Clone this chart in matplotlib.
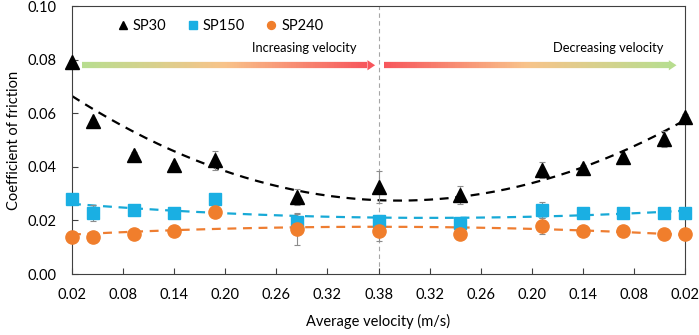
import numpy as np
import matplotlib
matplotlib.use("Agg")
import matplotlib.pyplot as plt
from matplotlib.collections import LineCollection
from matplotlib.colors import LinearSegmentedColormap
from matplotlib.patches import Polygon

plt.rcParams['font.family'] = ['Lato', 'DejaVu Sans']

# velocity for each run (m/s): up to 0.38, then back down
vel_up = [0.02, 0.045, 0.093, 0.14, 0.188, 0.284, 0.38]
vel_down = [0.284, 0.188, 0.14, 0.093, 0.045, 0.02]

sp30 = [0.079, 0.057, 0.0445, 0.0405, 0.0425, 0.0287, 0.0325,
        0.0295, 0.0388, 0.0395, 0.0435, 0.0505, 0.0587]
sp30_err = [0.001, 0.001, 0.001, 0.001, 0.0035, 0.003, 0.006,
            0.0035, 0.003, 0.001, 0.001, 0.003, 0.001]
sp150 = [0.028, 0.0228, 0.024, 0.0228, 0.028, 0.0195, 0.0199,
         0.019, 0.024, 0.0228, 0.0228, 0.0228, 0.0228]
sp150_err = [0.001, 0.003, 0.001, 0.001, 0.001, 0.003, 0.002,
             0.001, 0.003, 0.001, 0.001, 0.001, 0.001]
sp240 = [0.014, 0.014, 0.015, 0.016, 0.023, 0.0168, 0.016,
         0.0148, 0.018, 0.016, 0.016, 0.015, 0.015]
sp240_err = [0.001, 0.001, 0.001, 0.001, 0.001, 0.006, 0.0035,
             0.001, 0.003, 0.001, 0.001, 0.001, 0.001]

tick_labels = ['0.02', '0.08', '0.14', '0.20', '0.26', '0.32', '0.38',
               '0.32', '0.26', '0.20', '0.14', '0.08', '0.02']

# position on the "unfolded" velocity axis
pos = np.array([v - 0.02 for v in vel_up] + [0.36 + (0.38 - v) for v in vel_down])

fig = plt.figure(figsize=(6.99, 3.35), dpi=100)
ax = fig.add_axes([0.103, 0.182, 0.877, 0.8])

series = [
    (sp30, sp30_err, '^', 'black', '#000000', 'SP30', 10),
    (sp150, sp150_err, 's', '#1AAFE3', '#17A9D6', 'SP150', 9),
    (sp240, sp240_err, 'o', '#F07E2C', '#EE7D31', 'SP240', 9.5),
]

xs = np.linspace(0, 0.72, 200)
for y, err, m, c, tc, lab, ms in series:
    coef = np.polyfit(pos, y, 2)
    ax.plot(xs, np.polyval(coef, xs), ls=(0, (4, 3)), color=tc, lw=1.6, zorder=2)
    ax.errorbar(pos, y, yerr=err, fmt='none', ecolor='#8c8c8c', elinewidth=0.8,
                capsize=2, capthick=0.8, zorder=3, clip_on=False)
    ax.plot(pos, y, ls='none', marker=m, color=c, ms=ms, label=lab,
            zorder=4, clip_on=False)

ax.axvline(0.36, color='#a6a6a6', ls=(0, (4, 3)), lw=0.8, zorder=1)

# gradient arrows
cmap = LinearSegmentedColormap.from_list('g2r', ['#b8dd8f', '#f8c38a', '#f7565c'])


def grad_arrow(x0, x1, yv, forward):
    n = 120
    xx = np.linspace(x0, x1, n + 1)
    segs = [[(xx[i], yv), (xx[i + 1], yv)] for i in range(n)]
    t = np.linspace(0, 1, n)
    if not forward:
        t = 1 - t
    lc = LineCollection(segs, colors=cmap(t), linewidths=4.5, capstyle='butt', zorder=2)
    ax.add_collection(lc)
    hc = cmap(1.0) if forward else cmap(0.0)
    hl, hw = 0.009, 0.0019
    ax.add_patch(Polygon([(x1, yv + hw), (x1 + hl, yv), (x1, yv - hw)],
                         closed=True, color=hc, lw=0, zorder=2))


grad_arrow(0.012, 0.347, 0.0779, True)
grad_arrow(0.366, 0.701, 0.0779, False)

ax.text(0.334, 0.0822, 'Increasing velocity', ha='right', va='bottom', fontsize=9.3)
ax.text(0.695, 0.0822, 'Decreasing velocity', ha='right', va='bottom', fontsize=9.3)

ax.set_xlim(0, 0.72)
ax.set_ylim(0, 0.10)
ax.set_xticks(np.arange(13) * 0.06)
ax.set_xticklabels(tick_labels)
ax.set_yticks([0, 0.02, 0.04, 0.06, 0.08, 0.10])
ax.set_yticklabels(['0.00', '0.02', '0.04', '0.06', '0.08', '0.10'])
ax.tick_params(direction='in', length=4, width=0.8, colors='#404040', labelsize=10.5,
               labelcolor='black')
ax.tick_params(axis='x', pad=10)
ax.tick_params(axis='y', pad=11)
for s in ax.spines.values():
    s.set_color('#404040')
    s.set_linewidth(0.8)

ax.set_xlabel('Average velocity (m/s)', fontsize=10.5, labelpad=9)
ax.set_ylabel('Coefficient of friction', fontsize=10.5, labelpad=5)

ax.legend(loc='upper left', ncol=3, frameon=False, markerscale=0.6, fontsize=10.5,
          handletextpad=0.1, columnspacing=1.2, bbox_to_anchor=(0.047, 1.0),
          handlelength=1.2)

fig.savefig('out.png', dpi=100)
